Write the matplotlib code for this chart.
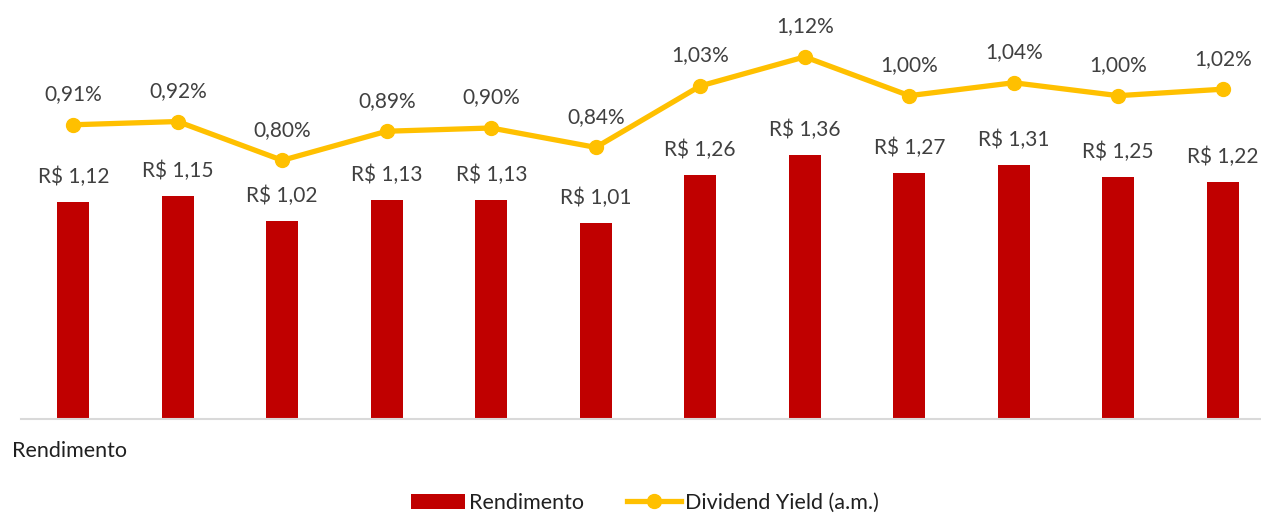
import matplotlib
matplotlib.use("Agg")
import matplotlib.pyplot as plt

# monthly values
months = list(range(12))
rendimento = [1.12, 1.15, 1.02, 1.13, 1.13, 1.01, 1.26, 1.36, 1.27, 1.31, 1.25, 1.22]
dividend_yield = [0.91, 0.92, 0.80, 0.89, 0.90, 0.84, 1.03, 1.12, 1.00, 1.04, 1.00, 1.02]

RED = "#C00000"
GOLD = "#FFC000"
TXT = "#404040"

plt.rcParams["font.family"] = ["Lato", "DejaVu Sans"]

W, H = 1261, 515
fig = plt.figure(figsize=(W / 100, H / 100), dpi=100)
ax = fig.add_axes([21 / W, 1 - 419 / H, (1275 - 21) / W, (419 - 31) / H])

bars = ax.bar(months, rendimento, width=0.31, color=RED, label="Rendimento", zorder=2)
ax.set_xlim(-0.5, 11.5)
ax.set_ylim(0, 2.0)
for x, v in zip(months, rendimento):
    ax.annotate(f"R$ {v:.2f}".replace(".", ","), (x, v), xytext=(0, 18),
                textcoords="offset points", ha="center", va="center",
                fontsize=15, color=TXT)

ax2 = ax.twinx()
ax2.plot(months, dividend_yield, color=GOLD, linewidth=3.8, marker="o",
         markersize=10, label="Dividend Yield (a.m.)", zorder=3)
ax2.set_ylim(0, 1.2)
for x, v in zip(months, dividend_yield):
    ax2.annotate(f"{v:.2f}%".replace(".", ","), (x, v), xytext=(0, 22),
                 textcoords="offset points", ha="center", va="center",
                 fontsize=15, color=TXT)

for a in (ax, ax2):
    for s in ("top", "right", "left"):
        a.spines[s].set_visible(False)
    a.spines["bottom"].set_color("#D9D9D9")
    a.spines["bottom"].set_linewidth(1.5)
    a.set_xticks([])
    a.set_yticks([])
ax2.spines["bottom"].set_visible(False)

fig.text(12 / W, 1 - 451 / H, "Rendimento", fontsize=15.5, color="#202020",
         ha="left", va="center")

fig.legend(handles=[bars, ax2.get_lines()[0]], loc="center",
           bbox_to_anchor=(645 / W, 1 - 503 / H), ncol=2, frameon=False,
           fontsize=15.5, handlelength=2.5, handletextpad=0.2, columnspacing=2.0,
           labelcolor="#202020")

fig.savefig("out.png", dpi=100)
